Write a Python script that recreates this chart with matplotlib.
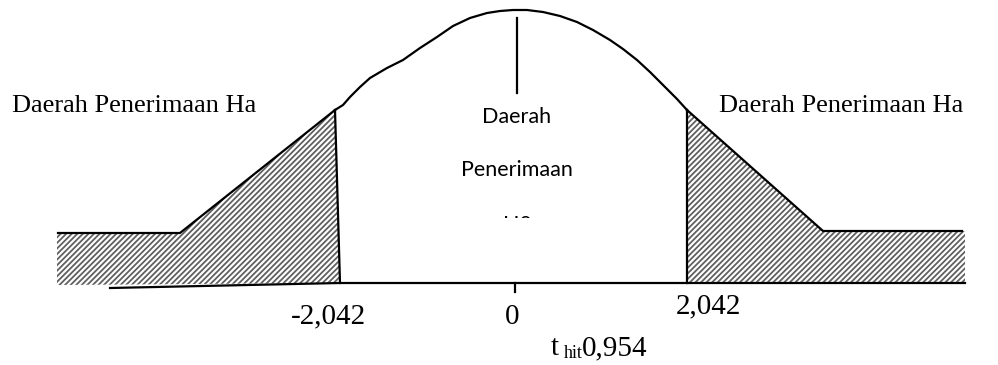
import matplotlib
matplotlib.use("Agg")
from matplotlib import pyplot as plt
from matplotlib.patches import Polygon, Rectangle

# diagram outline, in picture units (x to the right, y downward)
curve_x = [335, 343, 350, 360, 370, 387, 403, 420, 437, 453, 470, 487, 500, 513,
           527, 543, 560, 577, 593, 610, 623, 637, 650, 663, 677, 687]
curve_y = [110, 105, 97, 87, 78, 68, 60, 48, 37, 26, 18, 13, 11, 10,
           10, 12, 16, 22, 30, 40, 49, 60, 72, 85, 99, 110]

left_tail_x = [57, 180, 335, 340, 57]
left_tail_y = [233, 233, 110, 283, 285]
right_tail_x = [687, 823, 965, 965, 687]
right_tail_y = [110, 231, 231, 283, 283]

tick_pos = [328, 512, 708]
tick_labels = ["-2,042", "0", "2,042"]
tick_y = [316, 317, 306]
t_hit = "0,954"

plt.rcParams["hatch.linewidth"] = 1.3

fig = plt.figure(figsize=(9.98, 3.65), dpi=100)
ax = fig.add_axes([0, 0, 1, 1])
ax.set_xlim(0, 998)
ax.set_ylim(365, 0)
ax.axis("off")

# hatched rejection regions
for xs, ys in [(left_tail_x, left_tail_y), (right_tail_x, right_tail_y)]:
    ax.add_patch(Polygon(list(zip(xs, ys)), closed=True, facecolor="white",
                         edgecolor="#606060", linewidth=0, hatch="//////", zorder=1))

lw = 1.6
# curve top
ax.plot(curve_x, curve_y, color="black", lw=lw, zorder=3, solid_joinstyle="round")
# left tail outline
ax.plot([58, 180, 335], [233, 233, 110], color="black", lw=lw, zorder=3)
ax.plot([335, 340], [110, 283], color="black", lw=lw, zorder=3)
# right tail outline
ax.plot([687, 823, 962], [110, 231, 231], color="black", lw=lw, zorder=3)
ax.plot([687, 687], [110, 283], color="black", lw=lw, zorder=3)
# baseline
ax.plot([110, 340, 965], [288, 283, 283], color="black", lw=lw, zorder=3)
# centre line and tick
ax.plot([517, 517], [18, 93], color="black", lw=lw, zorder=3)
ax.plot([515, 515], [283, 292], color="black", lw=lw, zorder=3)

serif = "Liberation Serif"
sans = "Lato"

ax.text(12, 106, "Daerah Penerimaan Ha", family=serif, fontsize=19, va="center", ha="left")
ax.text(963, 106, "Daerah Penerimaan Ha", family=serif, fontsize=19, va="center", ha="right")

ax.text(517, 117, "Daerah", family=sans, fontsize=15.5, ha="center", va="center")
ax.text(517, 170, "Penerimaan", family=sans, fontsize=15.5, ha="center", va="center")
ax.text(517, 225, "H0", family=sans, fontsize=15.5, ha="center", va="center", zorder=2)
# the last line is cut off in the original
ax.add_patch(Rectangle((470, 218), 95, 30, facecolor="white", edgecolor="none", zorder=2.5))

for pos, lab, ty in zip(tick_pos, tick_labels, tick_y):
    ax.text(pos, ty, lab, family=serif, fontsize=21, ha="center", va="center")

ax.text(551, 348, "t", family=serif, fontsize=21, ha="left", va="center")
ax.text(564, 353, "hit", family=serif, fontsize=13, ha="left", va="center")
ax.text(582, 348, t_hit, family=serif, fontsize=21, ha="left", va="center")

fig.savefig("out.png", dpi=100)
